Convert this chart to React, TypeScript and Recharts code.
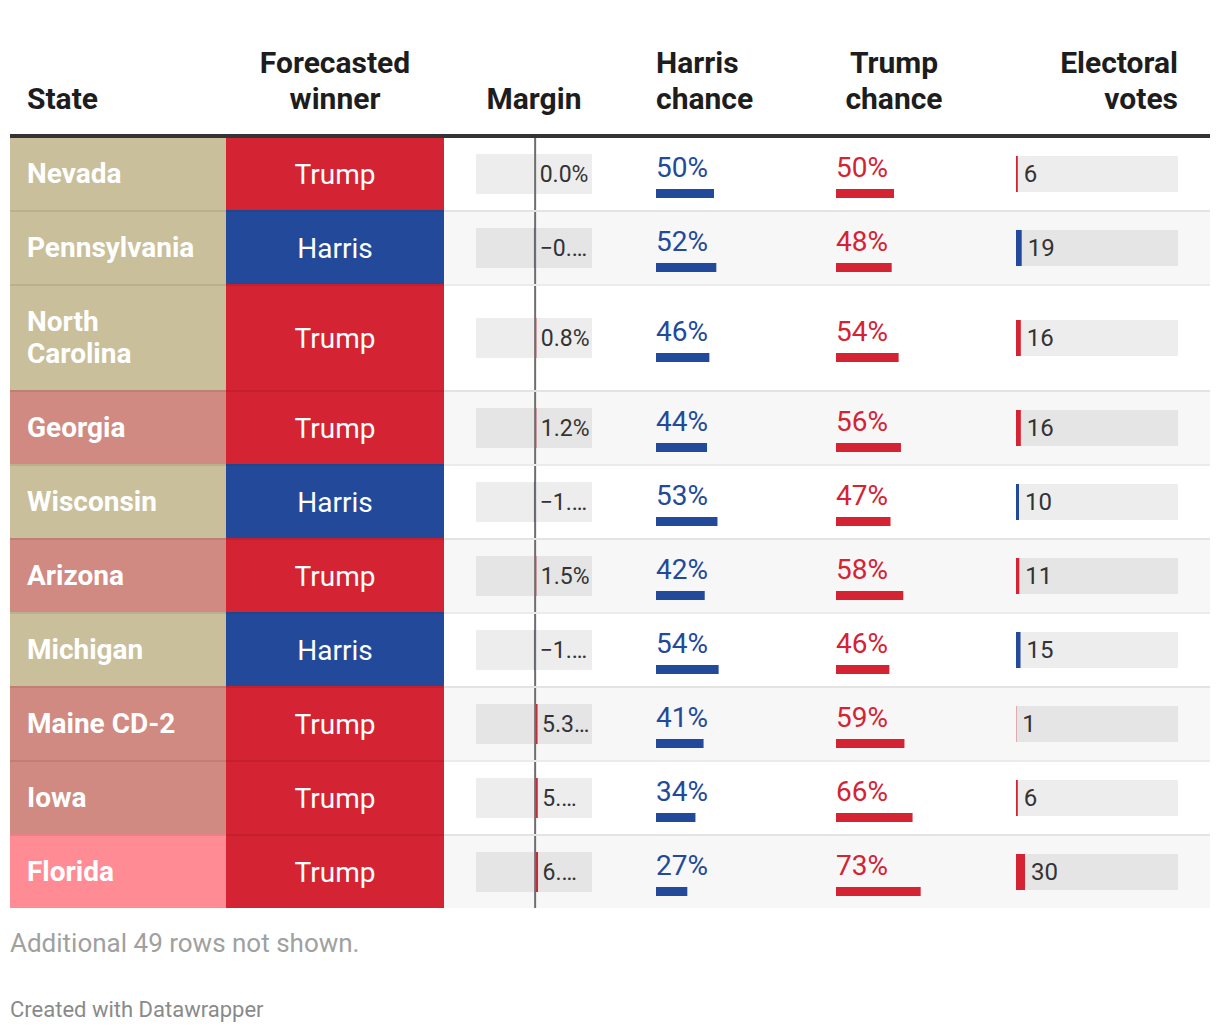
import React from 'react';
import { BarChart, Bar, XAxis, YAxis, ReferenceLine, LabelList } from 'recharts';

// ---------- data ----------
const states = ['Nevada', 'Pennsylvania', 'North Carolina', 'Georgia', 'Wisconsin', 'Arizona', 'Michigan', 'Maine CD-2', 'Iowa', 'Florida'];
const winners = ['Trump', 'Harris', 'Trump', 'Trump', 'Harris', 'Trump', 'Harris', 'Trump', 'Trump', 'Trump'];
const ratings = ['Toss-up', 'Toss-up', 'Toss-up', 'Lean R', 'Toss-up', 'Lean R', 'Toss-up', 'Lean R', 'Lean R', 'Likely R'];
const margins = [0.0, -0.4, 0.8, 1.2, -1.0, 1.5, -1.1, 5.3, 5.8, 6.4];
const marginLabels = ['0.0%', '−0.…', '0.8%', '1.2%', '−1.…', '1.5%', '−1.…', '5.3…', '5.…', '6.…'];
const harrisChance = [50, 52, 46, 44, 53, 42, 54, 41, 34, 27];
const trumpChance = [50, 48, 54, 56, 47, 58, 46, 59, 66, 73];
const electoralVotes = [6, 19, 16, 16, 10, 11, 15, 1, 6, 30];
const headers = [['State'], ['Forecasted', 'winner'], ['Margin'], ['Harris', 'chance'], ['Trump', 'chance'], ['Electoral', 'votes']];
const footNote = 'Additional 49 rows not shown.';
const credit = 'Created with Datawrapper';

// ---------- styles ----------
const RED = '#d42332';
const BLUE = '#234a9a';
const ratingColors: Record<string, string> = { 'Toss-up': '#c9bf9b', 'Lean R': '#d08a81', 'Likely R': '#ff8b95' };
const winnerColors: Record<string, string> = { Trump: RED, Harris: BLUE };
const FONT = 'Roboto, "Noto Sans", sans-serif';
const COLS = [216, 218, 180, 180, 180, 226];
const PAD = 32;
const TRACK = 'rgba(0,0,0,0.07)';
const SEP = '2px solid rgba(0,0,0,0.08)';
const MARGIN_DOMAIN: [number, number] = [-130, 125];
const EV_DOMAIN: [number, number] = [0, 538];
const CHANCE_DOMAIN: [number, number] = [0, 100];

const rowLines = (name: string) => (name.length > 13 ? 2 : 1);
const rowHeight = (name: string) => 40 + 32 * rowLines(name);

const getBox = (p: any) => {
  const vb = p.viewBox || {};
  const x = p.x ?? vb.x ?? 0;
  const y = p.y ?? vb.y ?? 0;
  const width = p.width ?? vb.width ?? 0;
  const height = p.height ?? vb.height ?? 0;
  return { x: Number(x), y: Number(y), width: Number(width), height: Number(height) };
};

const makeEndLabel = (size: number, gap: number) => (p: any) => {
  const b = getBox(p);
  const end = Math.max(b.x, b.x + b.width);
  return (
    <text x={end + gap} y={b.y + b.height / 2 + size / 3} fontSize={size} fill="#333" fontFamily={FONT}>
      {p.value}
    </text>
  );
};
const marginLabel = makeEndLabel(23, 4.5);
const evLabel = makeEndLabel(24, 6);

function MarginChart({ value, label, height }: { value: number; label: string; height: number }) {
  return (
    <BarChart width={116} height={height} data={[{ name: 'm', value, label }]} layout="vertical"
      margin={{ top: 0, right: 0, bottom: 0, left: 0 }} barCategoryGap={0}>
      <XAxis type="number" domain={MARGIN_DOMAIN} hide allowDataOverflow />
      <YAxis type="category" dataKey="name" hide />
      <Bar dataKey="value" barSize={40} fill={value < 0 ? BLUE : RED} background={{ fill: TRACK }}
        minPointSize={(v: number) => (v === 0 ? 0.01 : 1.2)} isAnimationActive={false}>
        <LabelList dataKey="label" content={marginLabel} />
      </Bar>
      <ReferenceLine x={0} stroke="#6e6e6e" strokeWidth={2} />
    </BarChart>
  );
}

function EVChart({ value, color }: { value: number; color: string }) {
  return (
    <BarChart width={162} height={40} data={[{ name: 'e', value }]} layout="vertical"
      margin={{ top: 0, right: 0, bottom: 0, left: 0 }} barCategoryGap={0}>
      <XAxis type="number" domain={EV_DOMAIN} hide allowDataOverflow />
      <YAxis type="category" dataKey="name" hide />
      <Bar dataKey="value" barSize={40} fill={color} background={{ fill: TRACK }} isAnimationActive={false}>
        <LabelList dataKey="value" content={evLabel} />
      </Bar>
    </BarChart>
  );
}

function ChanceChart({ value, color }: { value: number; color: string }) {
  const label = (p: any) => {
    const b = getBox(p);
    return (
      <text x={b.x} y={b.y - 12} fontSize={28} fill={color} fontFamily={FONT}>
        {p.value}%
      </text>
    );
  };
  return (
    <BarChart width={116} height={48} data={[{ name: 'c', value }]} layout="vertical"
      margin={{ top: 38, right: 0, bottom: 0, left: 0 }} barCategoryGap={0}>
      <XAxis type="number" domain={CHANCE_DOMAIN} hide allowDataOverflow />
      <YAxis type="category" dataKey="name" hide />
      <Bar dataKey="value" barSize={10} fill={color} isAnimationActive={false}>
        <LabelList dataKey="value" content={label} />
      </Bar>
    </BarChart>
  );
}

export default function App() {
  const headAlign: Array<React.CSSProperties> = [
    { paddingLeft: 17, textAlign: 'left' },
    { textAlign: 'center' },
    { textAlign: 'center' },
    { paddingLeft: PAD, textAlign: 'left' },
    { textAlign: 'center' },
    { paddingRight: PAD, textAlign: 'right' },
  ];
  return (
    <div style={{ position: 'absolute', left: 0, top: 0, width: 1220, height: 1034, background: '#fff', fontFamily: FONT, overflow: 'hidden' }}>
      {/* header */}
      <div style={{ position: 'absolute', left: 10, top: 0, width: 1200, height: 134, display: 'flex', alignItems: 'flex-end', paddingBottom: 17, boxSizing: 'border-box' }}>
        {headers.map((lines, i) => (
          <div key={i} style={{ width: COLS[i], boxSizing: 'border-box', fontWeight: 700, fontSize: 30, lineHeight: '36px', color: '#1d1d1d', ...headAlign[i] }}>
            {lines.map((l, j) => (
              <div key={j}>{l}</div>
            ))}
          </div>
        ))}
      </div>
      <div style={{ position: 'absolute', left: 10, top: 134, width: 1200, height: 4, background: '#333' }} />
      {/* rows */}
      <div style={{ position: 'absolute', left: 10, top: 138, width: 1200 }}>
        {states.map((name, i) => {
          const h = rowHeight(name);
          const border = i > 0 ? SEP : 'none';
          const total = h + (i > 0 ? 2 : 0);
          const cell: React.CSSProperties = { height: total, borderTop: border, boxSizing: 'border-box', display: 'flex', alignItems: 'center' };
          const wColor = winnerColors[winners[i]];
          return (
            <div key={name} style={{ display: 'flex', height: total, background: i % 2 === 1 ? '#f7f7f7' : '#fff' }}>
              <div style={{ ...cell, width: COLS[0], background: ratingColors[ratings[i]], padding: '0 17px', color: '#fff', fontWeight: 700, fontSize: 28, lineHeight: '32px' }}>
                {name}
              </div>
              <div style={{ ...cell, width: COLS[1], background: wColor, justifyContent: 'center', color: '#fff', fontSize: 28 }}>
                {winners[i]}
              </div>
              <div style={{ ...cell, width: COLS[2], paddingLeft: PAD }}>
                <MarginChart value={margins[i]} label={marginLabels[i]} height={h} />
              </div>
              <div style={{ ...cell, width: COLS[3], paddingLeft: PAD }}>
                <ChanceChart value={harrisChance[i]} color={BLUE} />
              </div>
              <div style={{ ...cell, width: COLS[4], paddingLeft: PAD }}>
                <ChanceChart value={trumpChance[i]} color={RED} />
              </div>
              <div style={{ ...cell, width: COLS[5], paddingLeft: PAD }}>
                <EVChart value={electoralVotes[i]} color={wColor} />
              </div>
            </div>
          );
        })}
      </div>
      {/* footer */}
      <div style={{ position: 'absolute', left: 10, top: 928, fontSize: 26, lineHeight: '30px', color: '#a0a0a0' }}>{footNote}</div>
      <div style={{ position: 'absolute', left: 10, top: 997, fontSize: 22, lineHeight: '26px', color: '#8a8a8a' }}>{credit}</div>
    </div>
  );
}
